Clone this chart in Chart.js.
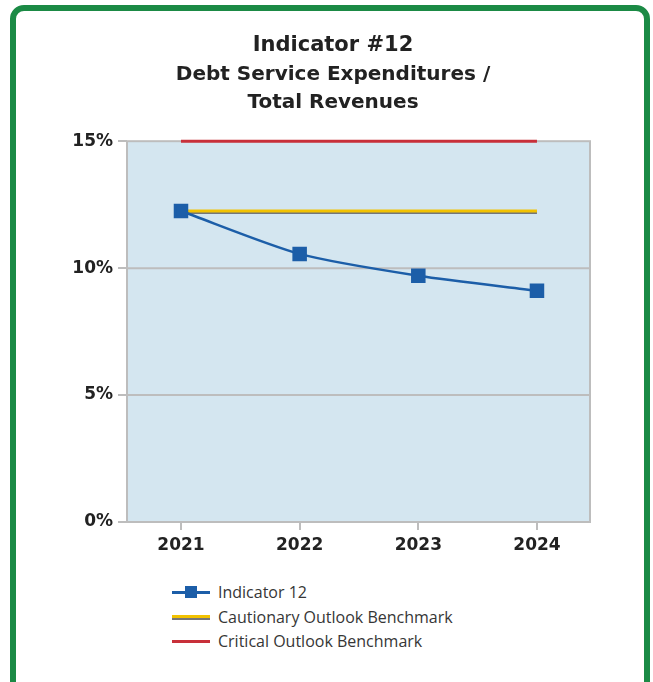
<!DOCTYPE html>
<html>
<head>
<meta charset="utf-8">
<script src="https://cdn.jsdelivr.net/npm/chart.js@4"></script>
<style>
  html, body { margin: 0; padding: 0; background: #fff; }
  body { width: 653px; height: 682px; position: relative; overflow: hidden; font-family: "Open Sans", sans-serif; }
  .frame { position: absolute; left: 10px; top: 5px; width: 628px; height: 700px; border: 6px solid #1b8a45; border-radius: 14px; }
  #chartWrap { position: absolute; left: 0; top: 0; width: 653px; height: 570px; }
  #legend { position: absolute; left: 172px; top: 580px; }
  .item { height: 24.5px; display: flex; align-items: center; font-size: 16px; color: #363636; }
  .sw { width: 38px; height: 14px; position: relative; margin-right: 8px; }
</style>
</head>
<body>
<div class="frame"></div>
<div id="chartWrap"><canvas id="c" width="653" height="570"></canvas></div>
<div id="legend"></div>
<script>
const years = [2021, 2022, 2023, 2024];
const indicator12 = [12.25, 10.56, 9.70, 9.11];
const cautionary = [12.25, 12.25, 12.25, 12.25];
const critical = [15, 15, 15, 15];
const yTicks = [0, 5, 10, 15];

const fontFam = '"DejaVu Sans", sans-serif';
const pts = vals => vals.map((v, i) => ({ x: years[i], y: v }));

// light blue plot background + grey frame
const plotFrame = {
  id: 'plotFrame',
  beforeDatasetsDraw(chart) {
    const { ctx, chartArea: a } = chart;
    ctx.save();
    ctx.fillStyle = '#d4e6f0';
    ctx.fillRect(a.left, a.top, a.right - a.left, a.bottom - a.top);
    ctx.strokeStyle = '#bdbdbd';
    ctx.lineWidth = 2;
    ctx.strokeRect(a.left, a.top, a.right - a.left, a.bottom - a.top);
    ctx.beginPath();
    [5, 10].forEach(v => {
      const y = chart.scales.y.getPixelForValue(v);
      ctx.moveTo(a.left, y); ctx.lineTo(a.right, y);
    });
    ctx.stroke();
    ctx.restore();
  }
};

// grey shadow under the yellow benchmark
const shadowLine = {
  id: 'shadowLine',
  beforeDatasetDraw(chart, args) {
    if (args.index !== 1) return;
    const ctx = chart.ctx;
    ctx.save();
    ctx.shadowColor = 'rgba(90,90,90,0.8)';
    ctx.shadowOffsetY = 1.5;
    ctx.shadowBlur = 0;
  },
  afterDatasetDraw(chart, args) {
    if (args.index !== 1) return;
    chart.ctx.restore();
  }
};

const chart = new Chart(document.getElementById('c'), {
  type: 'line',
  data: {
    datasets: [
      {
        label: 'Indicator 12',
        data: pts(indicator12),
        borderColor: '#1c5ea8',
        backgroundColor: '#1c5ea8',
        borderWidth: 2.5,
        tension: 0.25,
        pointStyle: 'rect',
        pointRadius: 8.5,
        pointHoverRadius: 8.5,
        clip: false,
        order: 0
      },
      {
        label: 'Cautionary Outlook Benchmark',
        data: pts(cautionary),
        borderColor: '#f2c200',
        borderWidth: 3,
        pointRadius: 0,
        clip: false,
        order: 1
      },
      {
        label: 'Critical Outlook Benchmark',
        data: pts(critical),
        borderColor: '#c8303a',
        borderWidth: 3,
        pointRadius: 0,
        clip: false,
        order: 2
      }
    ]
  },
  options: {
    responsive: false,
    animation: false,
    layout: { padding: { left: 20, right: 7, top: 33, bottom: 8 } },
    plugins: {
      legend: { display: false },
      tooltip: { enabled: false },
      title: {
        display: true,
        text: 'Indicator #12',
        color: '#222',
        font: { family: fontFam, size: 21, weight: 'bold', lineHeight: 1.2 },
        padding: { top: 0, bottom: 3 }
      },
      subtitle: {
        display: true,
        text: ['Debt Service Expenditures /', 'Total Revenues'],
        color: '#222',
        font: { family: fontFam, size: 20, weight: 'bold', lineHeight: 1.4 },
        padding: { top: 0, bottom: 24 }
      }
    },
    scales: {
      x: {
        type: 'linear',
        min: 2020.545,
        max: 2024.447,
        afterBuildTicks(s) { s.ticks = years.map(v => ({ value: v })); },
        grid: { display: true, drawOnChartArea: false, drawTicks: true, tickLength: 8, color: '#bdbdbd', lineWidth: 2 },
        border: { display: false },
        ticks: { color: '#222', font: { family: fontFam, size: 17, weight: 'bold' }, padding: 5, callback: v => String(v) },
        afterFit(s) { s.height = 40; }
      },
      y: {
        min: 0, max: 15,
        afterBuildTicks(s) { s.ticks = yTicks.map(v => ({ value: v })); },
        grid: { display: true, drawOnChartArea: false, drawTicks: true, tickLength: 9, color: '#bdbdbd', lineWidth: 2 },
        border: { display: false },
        ticks: { color: '#222', font: { family: fontFam, size: 17, weight: 'bold' }, padding: 5, callback: v => v + '%' },
        afterFit(s) { s.width = 107; }
      },
      // empty right axis, only reserves the margin so the title centres like the original
      yRight: {
        position: 'right',
        grid: { display: false },
        border: { display: false },
        ticks: { display: false },
        afterFit(s) { s.width = 56; }
      }
    }
  },
  plugins: [plotFrame, shadowLine]
});

// html legend, stacked vertically
const legend = document.getElementById('legend');
chart.data.datasets.forEach((ds, i) => {
  const row = document.createElement('div');
  row.className = 'item';
  const sw = document.createElement('span');
  sw.className = 'sw';
  let inner = '<span style="position:absolute;left:0;right:0;top:' + (7 - ds.borderWidth / 2) + 'px;height:' + ds.borderWidth + 'px;background:' + ds.borderColor + ';"></span>';
  if (i === 0) inner += '<span style="position:absolute;left:13px;top:1px;width:12px;height:12px;background:' + ds.borderColor + ';"></span>';
  if (i === 1) inner += '<span style="position:absolute;left:0;right:0;top:8.5px;height:1.5px;background:#777;"></span>';
  sw.innerHTML = inner;
  row.appendChild(sw);
  row.appendChild(document.createTextNode(ds.label));
  legend.appendChild(row);
});
</script>
</body>
</html>
